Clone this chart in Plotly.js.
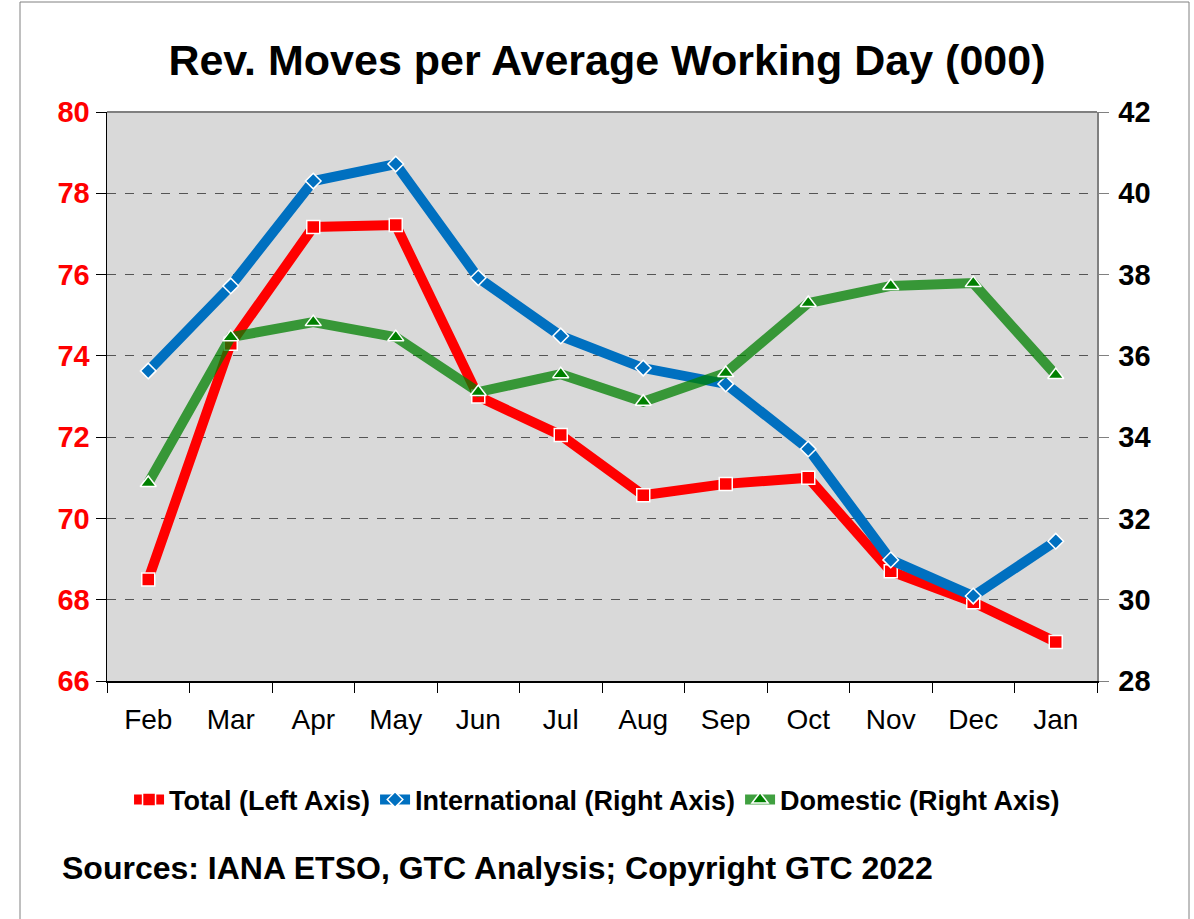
<!DOCTYPE html>
<html><head><meta charset="utf-8">
<script src="https://cdn.plot.ly/plotly-3.0.1.min.js"></script>
<style>body{margin:0;background:#fff}#chart{width:1194px;height:919px}</style>
</head><body><div id="chart"></div>
<script>
const months = ["Feb","Mar","Apr","May","Jun","Jul","Aug","Sep","Oct","Nov","Dec","Jan"];
const total = [68.5,74.3,77.17,77.22,73.0,72.05,70.57,70.85,71.0,68.7,67.94,66.96];
const international = [35.63,37.72,40.3,40.72,37.92,36.49,35.7,35.31,33.71,30.98,30.09,31.44];
const domestic = [32.87,36.46,36.83,36.46,35.11,35.55,34.87,35.58,37.3,37.72,37.79,35.53];
const leftTicks = [66,68,70,72,74,76,78,80];
const rightTicks = [28,30,32,34,36,38,40,42];

const F = "Arial, 'Liberation Sans', sans-serif";
const data = [
  {x: months, y: total, name: "Total (Left Axis)", type: "scatter", mode: "lines+markers", yaxis: "y",
   line: {color: "#ff0000", width: 10},
   marker: {symbol: "square", size: 13, color: "#ff0000", line: {color: "#ffffff", width: 1.5}}},
  {x: months, y: international, name: "International (Right Axis)", type: "scatter", mode: "lines+markers", yaxis: "y2",
   line: {color: "#0070c0", width: 10},
   marker: {symbol: "diamond", size: 12, color: "#0070c0", line: {color: "#ffffff", width: 1.5}}},
  {x: months, y: domestic, name: "Domestic (Right Axis)", type: "scatter", mode: "lines+markers", yaxis: "y2",
   line: {color: "rgba(0,128,0,0.75)", width: 10},
   marker: {symbol: "triangle-up", size: 14, color: "#008000", line: {color: "#ffffff", width: 1.5}}}
];

const layout = {
  width: 1194, height: 919,
  margin: {l: 107, r: 97, t: 112, b: 238},
  paper_bgcolor: "#ffffff", plot_bgcolor: "#d9d9d9",
  font: {family: F, color: "#000"},
  title: {text: "<b>Rev. Moves per Average Working Day (000)</b>", font: {family: F, size: 43, color: "#000"},
          x: 0.505, xanchor: "center", xref: "paper", y: 1 - 60/919, yanchor: "middle", yref: "container"},
  showlegend: true,
  legend: {orientation: "h", x: 0.495, xanchor: "center", y: (681-800)/569, yanchor: "middle",
           font: {family: F, size: 27, color: "#000", weight: "bold"}, traceorder: "normal",
           itemwidth: 30, tracegroupgap: 0, bgcolor: "rgba(0,0,0,0)"},
  xaxis: {type: "category", categoryarray: months, range: [-0.5, 11.5], tickson: "boundaries", ticks: "outside", ticklen: 10,
          tickcolor: "#000", linecolor: "#000", linewidth: 1.5, showline: true, showgrid: false, mirror: false,
          tickfont: {family: F, size: 28, color: "#000"}, ticklabelstandoff: 13, zeroline: false},
  yaxis: {range: [66, 80], tickvals: leftTicks, ticks: "outside", ticklen: 10, tickcolor: "#000",
          showline: true, linecolor: "#000", linewidth: 1.5,
          showgrid: true, gridcolor: "#555555", griddash: "dash", gridwidth: 1,
          tickfont: {family: F, size: 29, color: "#ff0000", weight: "bold"}, zeroline: false, ticklabelstandoff: 0},
  yaxis2: {range: [28, 42], tickvals: rightTicks, overlaying: "y", side: "right", ticks: "outside", ticklen: 10,
           tickcolor: "#808080", showline: true, linecolor: "#808080", linewidth: 1.5, showgrid: false,
           tickfont: {family: F, size: 29, color: "#000", weight: "bold"}, zeroline: false, ticklabelstandoff: 4},
  shapes: [
    {type: "line", xref: "paper", yref: "paper", x0: 0, x1: 1, y0: 1, y1: 1, line: {color: "#808080", width: 2}},
    {type: "rect", xref: "paper", yref: "paper", x0: (20-107)/990, x1: (1189-107)/990, y0: (681-930)/569, y1: (681-2)/569,
     line: {color: "#808080", width: 1}, fillcolor: "rgba(0,0,0,0)", layer: "below"}
  ],
  annotations: [
    {text: "<b>Sources: IANA ETSO, GTC Analysis; Copyright GTC 2022</b>", xref: "paper", yref: "paper",
     x: (60-107)/990, y: (681-868)/569, xanchor: "left", yanchor: "middle", showarrow: false,
     font: {family: F, size: 32, color: "#000"}}
  ]
};
Plotly.newPlot("chart", data, layout, {displayModeBar: false, staticPlot: true});
</script></body></html>
